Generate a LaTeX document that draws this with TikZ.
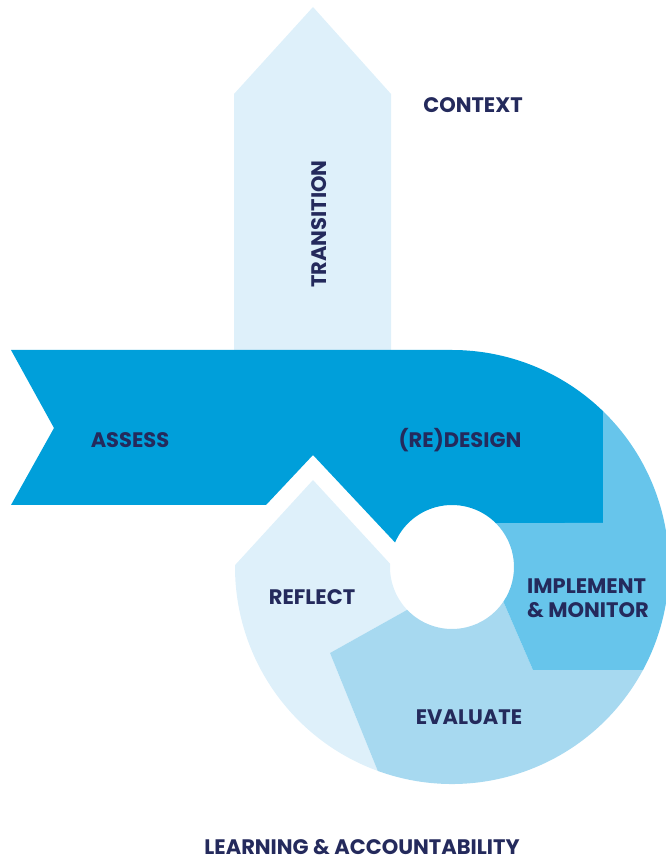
\documentclass[tikz,border=0pt]{standalone}
\usepackage{fontspec}
\setmainfont{Poppins}
\definecolor{bandblue}{RGB}{0,159,218}
\definecolor{implblue}{RGB}{103,197,235}
\definecolor{evalblue}{RGB}{167,217,240}
\definecolor{paleblue}{RGB}{222,240,250}
\definecolor{navy}{RGB}{36,42,92}
\tikzset{
  lbl/.style={font=\bfseries\fontsize{21}{23.5}\selectfont, text=navy, inner sep=0pt},
  shapefill/.style={draw=none}
}
\begin{document}
\begin{tikzpicture}[x=1pt,y=1pt]
\useasboundingbox (0,0) rectangle (666,860);
\begin{scope}[shift={(452,293)}]
  % transition arrow
  \fill[paleblue] (-218,217) -- (-218,473) -- (-139,560) -- (-61,473) -- (-61,217) -- cycle;
  % assess / redesign band
  \fill[bandblue] (-441,217) -- (0,217) arc[start angle=90, end angle=45.9, radius=217]
     -- (151,44) -- (45.2:62) arc[start angle=45.2, end angle=156.7, radius=62]
     -- (-139,112) -- (-186,62) -- (-441,62) -- (-398,139) -- cycle;
  % reflect
  \fill[paleblue] (-139,87) -- (179.5:217) arc[start angle=179.5, end angle=250, radius=217]
     -- (-122,-86) -- (223.7:62) arc[start angle=223.7, end angle=177, radius=62] -- cycle;
  % evaluate
  \fill[evalblue] (250:217) -- (-122,-86) -- (223.7:62) arc[start angle=223.7, end angle=326, radius=62]
     -- (81,-103) -- (331.7:217) arc[start angle=331.7, end angle=250, radius=217] -- cycle;
  % implement
  \fill[implblue] (326:62) -- (81,-103) -- (331.7:217) arc[start angle=-28.3, end angle=45.9, radius=217]
     -- (151,44) -- (45.2:62) arc[start angle=45.2, end angle=-34, radius=62] -- cycle;
\end{scope}
\node[lbl] (context) at (473,755) {CONTEXT};
\node[lbl, rotate=90] (transition) at (319,636) {TRANSITION};
\node[lbl] (assess) at (130,420) {ASSESS};
\node[lbl] (redesign) at (460,420) {(RE)DESIGN};
\node[lbl] (reflect) at (312,263) {REFLECT};
\node[lbl, align=left] (implement) at (588,262) {IMPLEMENT\\\& MONITOR};
\node[lbl] (evaluate) at (469,143) {EVALUATE};
\node[lbl] (learning) at (362,13) {LEARNING \& ACCOUNTABILITY};
\end{tikzpicture}
\end{document}
